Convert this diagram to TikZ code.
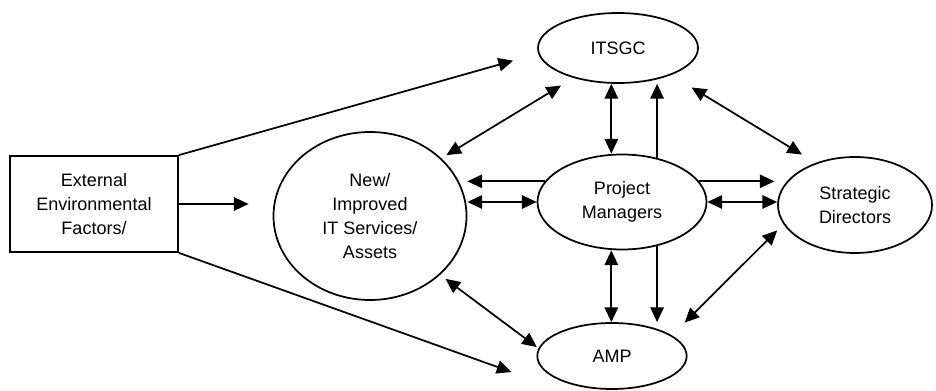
\documentclass[tikz,border=0pt]{standalone}
\usepackage{fontspec}
\setmainfont{Liberation Sans}
\usetikzlibrary{arrows.meta,shapes.geometric}

\begin{document}
\begin{tikzpicture}[x=0.75pt,y=-0.75pt,line width=1.3pt,
        one/.style={-{Triangle[length=11pt,width=10pt]}},
        two/.style={{Triangle[length=11pt,width=10pt]}-{Triangle[length=11pt,width=10pt]}}]
    \useasboundingbox (0,0) rectangle (936,391);
    \begin{scope}[every node/.style={draw,align=center,inner sep=0pt,font=\fontsize{13.5}{18}\selectfont}]
        \node[rectangle,minimum width=126pt,minimum height=72pt] (ext) at (94,204) {External\\Environmental\\Factors/};
        \node[ellipse,minimum width=144.75pt,minimum height=126pt] (new) at (370,216) {New/\\Improved\\IT Services/\\Assets};
        \node[ellipse,minimum width=120pt,minimum height=52.5pt] (itsgc) at (618,48) {ITSGC};
        \node[ellipse,minimum width=126.75pt,minimum height=71.25pt] (pm) at (622,202) {Project\\Managers};
        \node[ellipse,minimum width=112pt,minimum height=49.5pt] (amp) at (612,356) {AMP};
        \node[ellipse,minimum width=115.5pt,minimum height=72pt] (sd) at (855,205) {Strategic\\Directors};
    \end{scope}
    \coordinate (ampfeed) at ([xshift=-18.75pt,yshift=-12pt]amp.west);

    % external factors
    \draw[one,shorten >=19.5pt] (ext.north east) -- (itsgc.184);
    \draw[one,shorten >=18pt] (ext.east) -- (ext.east -| new.west);
    \draw[one] (ext.south east) -- (ampfeed);

    % services / assets
    \draw[two,shorten <=4.5pt,shorten >=11pt] (new.39) -- (itsgc.214);
    \draw[two,shorten <=5pt,shorten >=1.5pt] (new.320) -- (amp.174);

    % project managers
    \draw[one] (pm.165) -- (pm.165 -| new.east);
    \draw[two] (pm.west) -- (pm.west -| new.east);
    \draw[two] ([xshift=-8pt]pm.north) -- ([xshift=-8pt]pm.north |- itsgc.south);
    \draw[one] ([xshift=.4pt]pm.52) -- ([xshift=.4pt]pm.52 |- itsgc.south);
    \draw[two] ([xshift=-8pt]pm.south) -- ([xshift=-8pt]pm.south |- amp.north);
    \draw[one] ([xshift=.4pt]pm.-52) -- ([xshift=.4pt]pm.-52 |- amp.north);
    \draw[one,shorten >=2pt] (pm.15) -- (pm.15 -| sd.west);
    \draw[two] (pm.east) -- (pm.east -| sd.west);

    % strategic directors
    \draw[two,shorten <=18pt,shorten >=12pt] (itsgc.333) -- (sd.133);
    \draw[two,shorten <=13.5pt,shorten >=6.5pt] (amp.19) -- (sd.195);
\end{tikzpicture}
\end{document}
